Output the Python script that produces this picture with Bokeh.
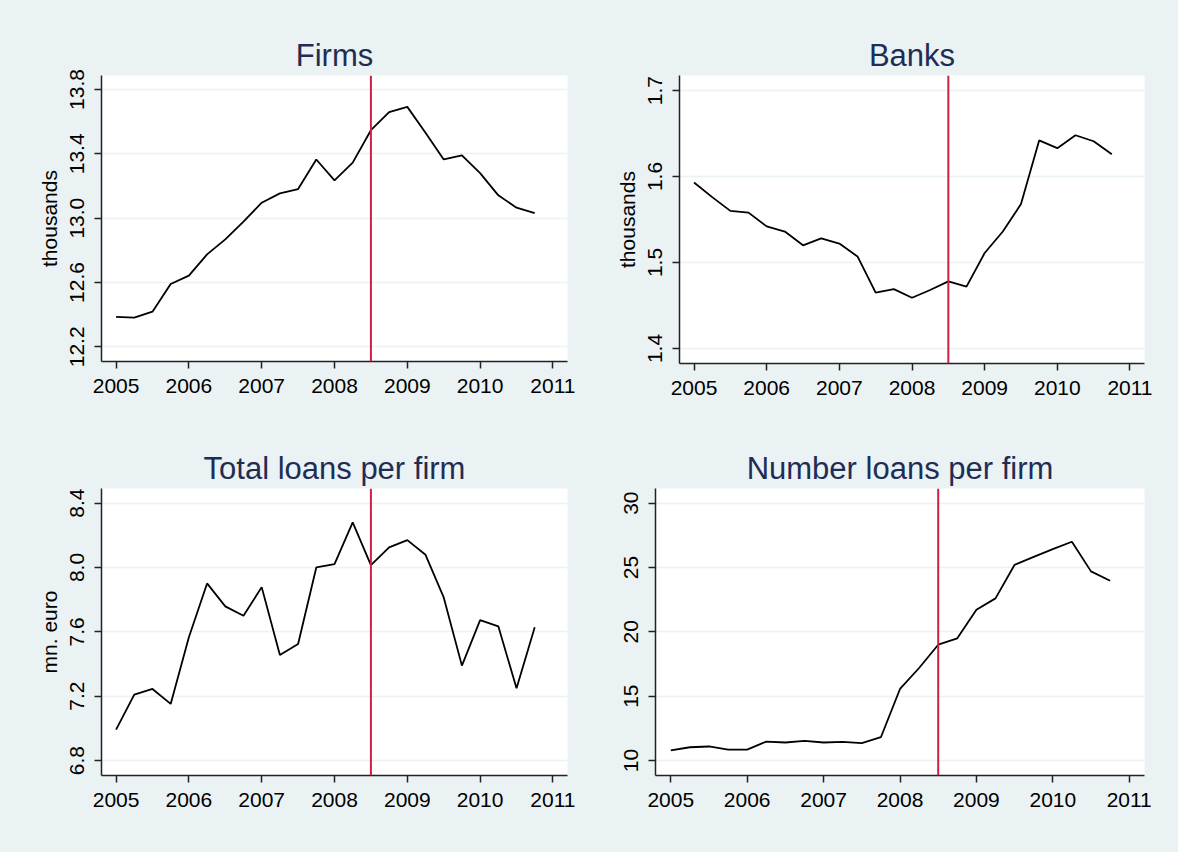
from bokeh.plotting import figure
from bokeh.layouts import row, column
from bokeh.models import Span, FixedTicker, PrintfTickFormatter, Range1d
from bokeh.embed import file_html
from bokeh.resources import INLINE

# ---- data (quarterly, 2005Q1 - 2010Q4) ----
dates = [2005.0, 2005.25, 2005.5, 2005.75,
         2006.0, 2006.25, 2006.5, 2006.75,
         2007.0, 2007.25, 2007.5, 2007.75,
         2008.0, 2008.25, 2008.5, 2008.75,
         2009.0, 2009.25, 2009.5, 2009.75,
         2010.0, 2010.25, 2010.5, 2010.75]

firms = [12.386, 12.382, 12.419, 12.591, 12.643, 12.775, 12.868, 12.978,
         13.096, 13.154, 13.181, 13.365, 13.235, 13.345, 13.547, 13.659,
         13.692, 13.531, 13.365, 13.390, 13.280, 13.142, 13.065, 13.032]

banks = [1.593, 1.576, 1.560, 1.558, 1.542, 1.536, 1.520, 1.528,
         1.522, 1.507, 1.465, 1.469, 1.459, 1.468, 1.478, 1.472,
         1.511, 1.536, 1.568, 1.642, 1.633, 1.648, 1.641, 1.626]

total_loans = [6.992, 7.210, 7.245, 7.152, 7.566, 7.901, 7.758, 7.700,
               7.878, 7.456, 7.524, 8.000, 8.021, 8.280, 8.015, 8.125,
               8.170, 8.079, 7.814, 7.390, 7.673, 7.634, 7.249, 7.628]

number_loans = [10.78, 11.03, 11.09, 10.85, 10.85, 11.47, 11.40, 11.53,
                11.40, 11.45, 11.35, 11.81, 15.56, 17.19, 19.00, 19.50,
                21.72, 22.60, 25.21, 25.83, 26.43, 27.00, 24.70, 23.97]

crisis = 2008.5
x_ticks = [2005, 2006, 2007, 2008, 2009, 2010, 2011]

titles = ["Firms", "Banks", "Total loans per firm", "Number loans per firm"]
y_labels = ["thousands", "thousands", "mn. euro", None]
y_ticks = [[12.2, 12.6, 13.0, 13.4, 13.8],
           [1.4, 1.5, 1.6, 1.7],
           [6.8, 7.2, 7.6, 8.0, 8.4],
           [10, 15, 20, 25, 30]]
y_formats = ["%.1f", "%.1f", "%.1f", "%d"]
y_ranges = [(12.109, 13.887), (1.3825, 1.7175), (6.707, 8.491), (8.835, 31.14)]
series = [firms, banks, total_loans, number_loans]

BG = "#EAF2F3"
FONT = "Liberation Sans"

# frame geometry per panel: (min_border_left, frame_width, min_border_right,
#                            min_border_top, frame_height, min_border_bottom)
geom = [(101, 466, 22, 75, 286, 61),
        (90, 465, 34, 74, 288, 60),
        (101, 466, 22, 66, 287, 77),
        (66, 489, 34, 66, 287, 77)]


def make_panel(i):
    bl, fw, br, bt, fh, bb = geom[i]
    p = figure(frame_width=fw, frame_height=fh,
               min_border_left=bl, min_border_right=br,
               min_border_top=bt, min_border_bottom=bb,
               x_range=Range1d(2004.8, 2011.2),
               y_range=Range1d(*y_ranges[i]),
               output_backend="svg", toolbar_location=None,
               title=titles[i])
    p.background_fill_color = "white"
    p.border_fill_color = BG
    p.outline_line_color = None

    p.title.text_font = FONT
    p.title.text_font_size = "31px"
    p.title.text_font_style = "normal"
    p.title.text_color = "#1F2D55"
    p.title.align = "center"
    p.title.standoff = 6

    # x axis
    xa = p.xaxis[0]
    xa.ticker = FixedTicker(ticks=x_ticks)
    xa.minor_tick_line_color = None
    xa.major_tick_in = 0
    xa.major_tick_out = 7
    xa.major_label_text_font = FONT
    xa.major_label_text_font_size = "21px"
    xa.major_label_text_color = "black"
    xa.major_label_standoff = 10
    xa.axis_line_color = "#222222"
    xa.axis_line_width = 1.5
    xa.major_tick_line_color = "#222222"
    xa.major_tick_line_width = 1.5

    # y axis
    ya = p.yaxis[0]
    ya.ticker = FixedTicker(ticks=y_ticks[i])
    ya.formatter = PrintfTickFormatter(format=y_formats[i])
    ya.minor_tick_line_color = None
    ya.major_tick_in = 0
    ya.major_tick_out = 7
    ya.major_label_orientation = "vertical"
    ya.major_label_text_font = FONT
    ya.major_label_text_font_size = "21px"
    ya.major_label_text_color = "black"
    ya.major_label_standoff = 10
    ya.axis_line_color = "#222222"
    ya.axis_line_width = 1.5
    ya.major_tick_line_color = "#222222"
    ya.major_tick_line_width = 1.5
    if y_labels[i]:
        ya.axis_label = y_labels[i]
        ya.axis_label_text_font = FONT
        ya.axis_label_text_font_size = "21px"
        ya.axis_label_text_font_style = "normal"
        ya.axis_label_text_color = "black"
        ya.axis_label_standoff = 7

    p.xgrid.grid_line_color = None
    p.ygrid.grid_line_color = BG
    p.ygrid.grid_line_width = 1.5

    p.line(dates, series[i], line_color="black", line_width=1.8)
    p.add_layout(Span(location=crisis, dimension="height",
                      line_color="#D01F45", line_width=2))
    return p


panels = [make_panel(i) for i in range(4)]
top = row(panels[0], panels[1], spacing=0, styles={"background-color": BG})
bottom = row(panels[2], panels[3], spacing=0, styles={"background-color": BG})
layout = column(top, bottom, spacing=0, styles={"background-color": BG})

open("out.html", "w").write(file_html(layout, INLINE))
